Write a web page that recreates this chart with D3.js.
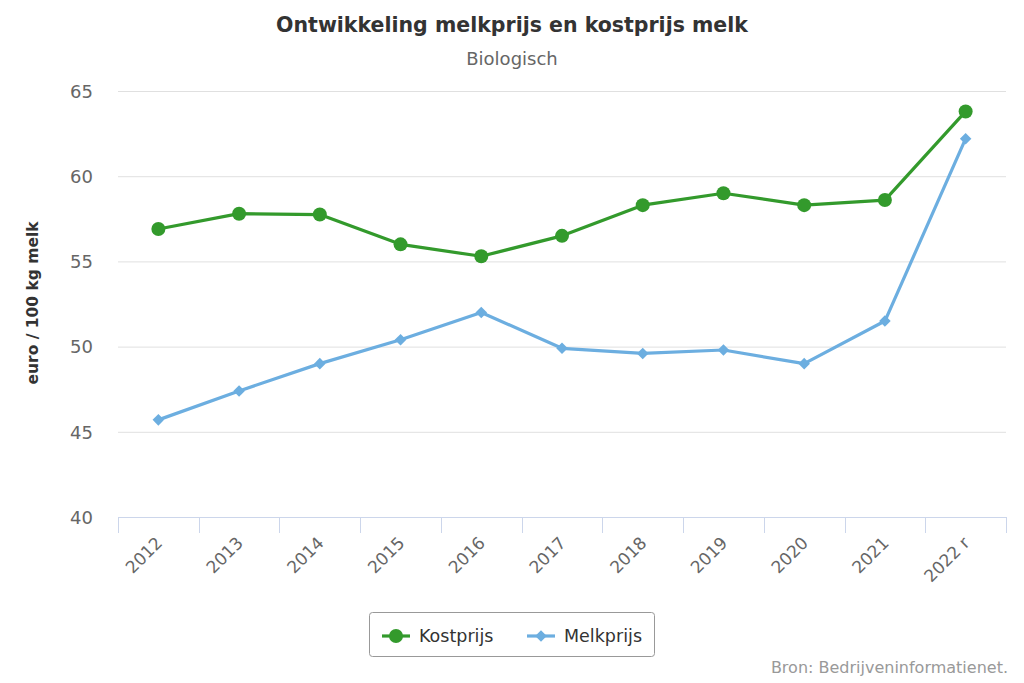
<!DOCTYPE html>
<html><head><meta charset="utf-8">
<script src="https://cdn.jsdelivr.net/npm/d3@7"></script>
<style>body{margin:0;background:#fff;} svg{font-family:"DejaVu Sans",sans-serif;}</style>
</head><body><svg id="c" width="1024" height="683"></svg>
<script>
const categories = ["2012","2013","2014","2015","2016","2017","2018","2019","2020","2021","2022 r"];
const kostprijs = [56.9,57.8,57.75,56.0,55.3,56.5,58.3,59.0,58.3,58.6,63.8];
const melkprijs = [45.7,47.4,49.0,50.4,52.0,49.9,49.6,49.8,49.0,51.5,62.2];
const yTicks = [40,45,50,55,60,65];
const seriesNames = ["Kostprijs","Melkprijs"];
const colors = ["#339a2c","#6caee0"];

const svg = d3.select("#c");
const L=118, R=1006, T=91, B=517;
const x = d3.scaleBand().domain(categories).range([L,R]);
const y = d3.scaleLinear().domain([40,65]).range([B,T]);

svg.append("text").attr("x",512).attr("y",32).attr("text-anchor","middle")
  .attr("font-size",20.5).attr("font-weight","bold").attr("fill","#333").text("Ontwikkeling melkprijs en kostprijs melk");
svg.append("text").attr("x",512).attr("y",65).attr("text-anchor","middle")
  .attr("font-size",18).attr("fill","#666").text("Biologisch");

// grid
svg.append("g").selectAll("line").data(yTicks.filter(d=>d>40)).join("line")
  .attr("x1",L).attr("x2",R).attr("y1",d=>y(d)+0.5).attr("y2",d=>y(d)+0.5)
  .attr("stroke","#e0e0e0").attr("stroke-width",1);
// y labels
const ya = svg.append("g").attr("transform",`translate(${L},0)`)
  .call(d3.axisLeft(y).tickValues(yTicks).tickSize(0).tickPadding(25));
ya.select(".domain").remove();
ya.selectAll("text").attr("font-size",18).attr("fill","#666").attr("font-family","DejaVu Sans").attr("dy","0.35em");

svg.append("text").attr("transform",`translate(38,${(T+B)/2-1}) rotate(-90)`).attr("text-anchor","middle")
  .attr("font-size",15.5).attr("font-weight","bold").attr("fill","#333").text("euro / 100 kg melk");

// x axis
svg.append("line").attr("x1",L).attr("x2",R).attr("y1",B+0.5).attr("y2",B+0.5).attr("stroke","#ccd6eb");
const bounds = categories.map(c=>x(c)).concat([R]);
svg.append("g").selectAll("line").data(bounds).join("line")
  .attr("x1",d=>Math.round(d)+0.5).attr("x2",d=>Math.round(d)+0.5).attr("y1",B).attr("y2",B+16).attr("stroke","#ccd6eb");
svg.append("g").selectAll("text").data(categories).join("text")
  .attr("transform",d=>`translate(${x(d)+x.bandwidth()/2+5},${B+27}) rotate(-45)`)
  .attr("text-anchor","end").attr("font-size",17).attr("fill","#666").text(d=>d);

// lines
const cx = d=>x(d)+x.bandwidth()/2;
const line = d3.line().x((v,i)=>cx(categories[i])).y(v=>y(v));
[kostprijs,melkprijs].forEach((s,k)=>{
  svg.append("path").attr("d",line(s)).attr("fill","none").attr("stroke",colors[k]).attr("stroke-width",3.2).attr("stroke-linejoin","round");
});
svg.append("g").selectAll("circle").data(kostprijs).join("circle")
  .attr("cx",(v,i)=>cx(categories[i])).attr("cy",v=>y(v)).attr("r",7).attr("fill",colors[0]);
const dia = d3.symbol().type(d3.symbolDiamond2).size(85);
svg.append("g").selectAll("path").data(melkprijs).join("path")
  .attr("transform",(v,i)=>`translate(${cx(categories[i])},${y(v)})`).attr("d",dia).attr("fill",colors[1]);

// legend
const lg = svg.append("g");
lg.append("rect").attr("x",369.5).attr("y",612.5).attr("width",285).attr("height",44).attr("rx",3)
  .attr("fill","#fff").attr("stroke","#999");
const items=[{x:382,tx:419},{x:527,tx:564}];
items.forEach((it,k)=>{
  lg.append("line").attr("x1",it.x).attr("x2",it.x+28).attr("y1",636).attr("y2",636).attr("stroke",colors[k]).attr("stroke-width",3.2);
  if(k===0) lg.append("circle").attr("cx",it.x+14).attr("cy",636).attr("r",7).attr("fill",colors[0]);
  else lg.append("path").attr("transform",`translate(${it.x+14},636)`).attr("d",dia).attr("fill",colors[1]);
  lg.append("text").attr("x",it.tx).attr("y",642).attr("font-size",17.5).attr("fill","#333").text(seriesNames[k]);
});
svg.append("text").attr("x",1008).attr("y",673).attr("text-anchor","end").attr("font-size",16).attr("fill","#999").text("Bron: Bedrijveninformatienet.");
</script></body></html>
